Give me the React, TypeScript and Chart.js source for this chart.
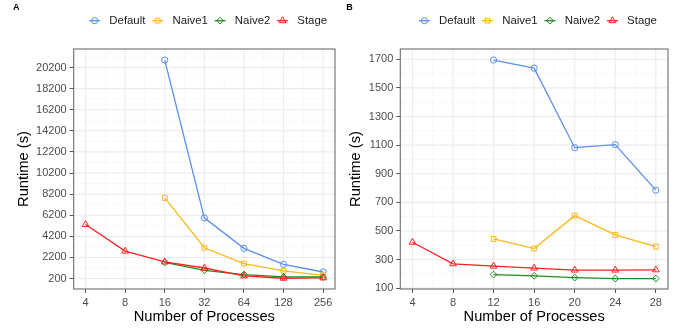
import React, { useEffect, useRef } from 'react';
import { Chart, registerables } from 'chart.js';
Chart.register(...registerables);

const FONT = '"Liberation Sans", Arial, Helvetica, sans-serif';
Chart.defaults.font.family = FONT;

const seriesNames = ['Default', 'Naive1', 'Naive2', 'Stage'];
const seriesColors = ['#5B8FEA', '#F9B81E', '#228B22', '#FF2020'];
const seriesShapes = ['circle', 'rect', 'rectRot', 'triangle'];
const seriesRadius = [3.1, 3.4, 3.4, 3.9];

// Panel A
const procsA = [4, 8, 16, 32, 64, 128, 256];
const defaultA = [null, null, 20900, 5950, 3060, 1550, 820];
const naive1A = [null, null, 7840, 3120, 1610, 920, 510];
const naive2A = [null, null, 1730, 980, 580, 350, 350];
const stageA = [5320, 2800, 1770, 1200, 450, 230, 260];
const yTicksA = [200, 2200, 4200, 6200, 8200, 10200, 12200, 14200, 16200, 18200, 20200];
const yMinorA = [1200, 3200, 5200, 7200, 9200, 11200, 13200, 15200, 17200, 19200, 21200];
const xMinorA = [5.657, 11.314, 22.627, 45.255, 90.51, 181.02];

// Panel B
const procsB = [4, 8, 12, 16, 20, 24, 28];
const defaultB = [null, null, 1695, 1638, 1082, 1103, 785];
const naive1B = [null, null, 444, 377, 607, 472, 391];
const naive2B = [null, null, 195, 186, 174, 167, 167];
const stageB = [421, 270, 254, 240, 226, 226, 228];
const yTicksB = [100, 300, 500, 700, 900, 1100, 1300, 1500, 1700];
const yMinorB = [200, 400, 600, 800, 1000, 1200, 1400, 1600];
const xMinorB = [6, 10, 14, 18, 22, 26];

function drawShape(ctx: CanvasRenderingContext2D, shape: string, x: number, y: number, r: number) {
  ctx.beginPath();
  if (shape === 'circle') {
    ctx.arc(x, y, r, 0, Math.PI * 2);
  } else if (shape === 'rect') {
    const s = r * Math.SQRT1_2;
    ctx.rect(x - s, y - s, 2 * s, 2 * s);
  } else if (shape === 'rectRot') {
    ctx.moveTo(x, y - r);
    ctx.lineTo(x + r, y);
    ctx.lineTo(x, y + r);
    ctx.lineTo(x - r, y);
    ctx.closePath();
  } else {
    let a = 0;
    ctx.moveTo(x + Math.sin(a) * r, y - Math.cos(a) * r);
    a += (2 * Math.PI) / 3;
    ctx.lineTo(x + Math.sin(a) * r, y - Math.cos(a) * r);
    a += (2 * Math.PI) / 3;
    ctx.lineTo(x + Math.sin(a) * r, y - Math.cos(a) * r);
    ctx.closePath();
  }
  ctx.stroke();
}

type PanelCfg = {
  label: string;
  labelX: number;
  procs: number[];
  series: (number | null)[][];
  log: boolean;
  xMin: number;
  xMax: number;
  yMin: number;
  yMax: number;
  yTicks: number[];
  yMinor: number[];
  xMinor: number[];
  yAxisWidth: number;
  padRight: number;
  yTitlePad: number;
};

function makeConfig(p: PanelCfg): any {
  const order = [3, 2, 1, 0];
  const datasets = p.series.map((vals, i) => ({
    label: seriesNames[i],
    data: p.procs
      .map((x, j) => ({ x, y: vals[j] }))
      .filter((d) => d.y !== null),
    borderColor: seriesColors[i],
    backgroundColor: 'rgba(0,0,0,0)',
    borderWidth: 1.3,
    pointStyle: seriesShapes[i],
    pointRadius: seriesRadius[i],
    pointBorderWidth: 1,
    pointBorderColor: seriesColors[i],
    pointBackgroundColor: 'rgba(0,0,0,0)',
    tension: 0,
    fill: false,
    order: order[i],
  }));

  const decor = {
    id: 'decor',
    beforeDatasetsDraw(chart: any) {
      const { ctx, chartArea } = chart;
      const { left, right, top, bottom } = chartArea;
      const xs = chart.scales.x;
      const ys = chart.scales.y;
      ctx.save();
      ctx.beginPath();
      ctx.rect(left, top, right - left, bottom - top);
      ctx.clip();
      ctx.strokeStyle = '#F3F3F3';
      ctx.lineWidth = 0.6;
      p.xMinor.forEach((v) => {
        const px = xs.getPixelForValue(v);
        ctx.beginPath();
        ctx.moveTo(px, top);
        ctx.lineTo(px, bottom);
        ctx.stroke();
      });
      p.yMinor.forEach((v) => {
        const py = ys.getPixelForValue(v);
        ctx.beginPath();
        ctx.moveTo(left, py);
        ctx.lineTo(right, py);
        ctx.stroke();
      });
      ctx.strokeStyle = '#EBEBEB';
      ctx.lineWidth = 1.1;
      p.procs.forEach((v) => {
        const px = xs.getPixelForValue(v);
        ctx.beginPath();
        ctx.moveTo(px, top);
        ctx.lineTo(px, bottom);
        ctx.stroke();
      });
      p.yTicks.forEach((v) => {
        const py = ys.getPixelForValue(v);
        ctx.beginPath();
        ctx.moveTo(left, py);
        ctx.lineTo(right, py);
        ctx.stroke();
      });
      ctx.restore();
    },
    afterDraw(chart: any) {
      const { ctx, chartArea } = chart;
      const { left, right, top, bottom } = chartArea;
      ctx.save();
      ctx.strokeStyle = '#6E6E6E';
      ctx.lineWidth = 1.1;
      ctx.strokeRect(left, top, right - left, bottom - top);

      // panel label
      ctx.fillStyle = '#000';
      ctx.font = 'bold 9px ' + FONT;
      ctx.textBaseline = 'middle';
      ctx.textAlign = 'left';
      ctx.fillText(p.label, p.labelX, 7.5);

      // legend
      ctx.font = '11.4px ' + FONT;
      const widths = seriesNames.map((n) => ctx.measureText(n).width);
      const itemW = widths.map((w) => 20.7 + w);
      const gap = 6.3;
      const total = itemW.reduce((a, b) => a + b, 0) + gap * (seriesNames.length - 1);
      let x = (left + right) / 2 + 3.5 - total / 2;
      const ly = 20.7;
      seriesNames.forEach((n, i) => {
        const cx = x + 6;
        ctx.strokeStyle = seriesColors[i];
        ctx.lineWidth = 1.3;
        ctx.beginPath();
        ctx.moveTo(cx - 5.5, ly);
        ctx.lineTo(cx + 5.5, ly);
        ctx.stroke();
        ctx.lineWidth = 1;
        drawShape(ctx, seriesShapes[i], cx, ly, seriesRadius[i]);
        ctx.fillStyle = '#1A1A1A';
        ctx.textBaseline = 'middle';
        ctx.fillText(n, x + 20.7, ly + 0.5);
        x += itemW[i] + gap;
      });
      ctx.restore();
    },
  };

  return {
    type: 'line',
    data: { datasets },
    plugins: [decor],
    options: {
      animation: false,
      responsive: false,
      devicePixelRatio: 1,
      layout: { padding: { left: 0, right: p.padRight, top: 49, bottom: 0 } },
      plugins: { legend: { display: false }, tooltip: { enabled: false } },
      scales: {
        x: {
          type: p.log ? 'logarithmic' : 'linear',
          min: p.xMin,
          max: p.xMax,
          afterBuildTicks: (s: any) => {
            s.ticks = p.procs.map((v) => ({ value: v }));
          },
          afterFit: (s: any) => {
            s.height = 44;
          },
          grid: { drawOnChartArea: false, drawTicks: true, tickLength: 4, tickColor: '#555', color: '#555', tickWidth: 1 },
          border: { display: false },
          ticks: {
            autoSkip: false,
            maxRotation: 0,
            padding: 3,
            color: '#4D4D4D',
            font: { size: 11, family: FONT },
            callback: (v: any) => String(v),
          },
          title: {
            display: true,
            text: 'Number of Processes',
            color: '#000',
            font: { size: 14.7, family: FONT, lineHeight: 1.2 },
            padding: { top: 0, bottom: 7.5 },
          },
        },
        y: {
          type: 'linear',
          min: p.yMin,
          max: p.yMax,
          afterBuildTicks: (s: any) => {
            s.ticks = p.yTicks.map((v) => ({ value: v }));
          },
          afterFit: (s: any) => {
            s.width = p.yAxisWidth;
          },
          grid: { drawOnChartArea: false, drawTicks: true, tickLength: 4, tickColor: '#555', color: '#555', tickWidth: 1 },
          border: { display: false },
          ticks: {
            autoSkip: false,
            padding: 3,
            color: '#4D4D4D',
            font: { size: 11, family: FONT },
            callback: (v: any) => String(v),
          },
          title: {
            display: true,
            text: 'Runtime (s)',
            color: '#000',
            font: { size: 14.7, family: FONT, lineHeight: 1.2 },
            padding: { top: p.yTitlePad, bottom: 0 },
          },
        },
      },
    },
  };
}

function Panel({ cfg }: { cfg: PanelCfg }) {
  const ref = useRef<HTMLCanvasElement>(null);
  useEffect(() => {
    if (!ref.current) return;
    const chart = new Chart(ref.current, makeConfig(cfg));
    return () => chart.destroy();
  }, []);
  return <canvas ref={ref} width={343} height={333} style={{ display: 'block', width: 343, height: 333 }} />;
}

const panelA: PanelCfg = {
  label: 'A',
  labelX: 13,
  procs: procsA,
  series: [defaultA, naive1A, naive2A, stageA],
  log: true,
  xMin: 3.249,
  xMax: 315.2,
  yMin: -790,
  yMax: 21950,
  yTicks: yTicksA,
  yMinor: yMinorA,
  xMinor: xMinorA,
  yAxisWidth: 73.7,
  padRight: 8,
  yTitlePad: 15.4,
};

const panelB: PanelCfg = {
  label: 'B',
  labelX: 3.3,
  procs: procsB,
  series: [defaultB, naive1B, naive2B, stageB],
  log: false,
  xMin: 2.8,
  xMax: 29.2,
  yMin: 94,
  yMax: 1772,
  yTicks: yTicksB,
  yMinor: yMinorB,
  xMinor: xMinorB,
  yAxisWidth: 57.3,
  padRight: 18,
  yTitlePad: 3.7,
};

export default function App() {
  return (
    <div style={{ position: 'absolute', left: 0, top: 0, width: 686, height: 333, display: 'flex', background: '#fff' }}>
      <Panel cfg={panelA} />
      <Panel cfg={panelB} />
    </div>
  );
}
